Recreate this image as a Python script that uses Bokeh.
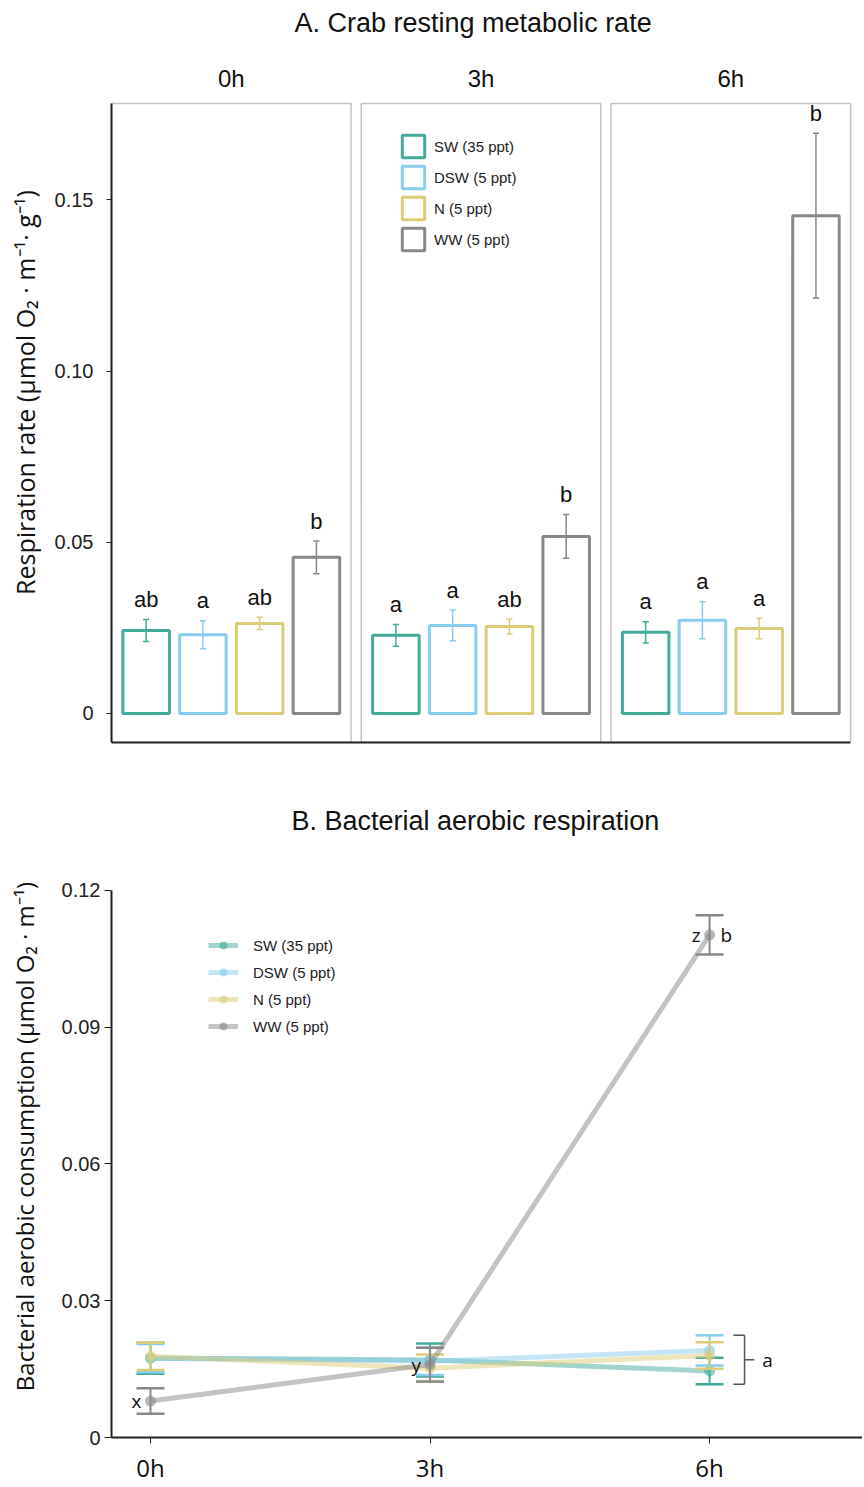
from bokeh.plotting import figure
from bokeh.layouts import column
from bokeh.models import (ColumnDataSource, Legend, LegendItem, FixedTicker, Range1d)
from bokeh.embed import file_html
from bokeh.resources import INLINE
from bokeh.core.properties import value

# ---------------- data ----------------
groups = ["SW (35 ppt)", "DSW (5 ppt)", "N (5 ppt)", "WW (5 ppt)"]
times = ["0h", "3h", "6h"]
colors = ["#44AA99", "#88CCEE", "#DDCC77", "#888888"]

# Panel A: crab resting metabolic rate (mean, se) per group across 0h/3h/6h
crab_sw = [0.0242, 0.0228, 0.0237]
crab_dsw = [0.0230, 0.0257, 0.0272]
crab_n = [0.0263, 0.0254, 0.0248]
crab_ww = [0.0456, 0.0517, 0.1454]
crab_sw_se = [0.0032, 0.0032, 0.0031]
crab_dsw_se = [0.0041, 0.0045, 0.0054]
crab_n_se = [0.0018, 0.0022, 0.0030]
crab_ww_se = [0.0048, 0.0064, 0.0241]
crab_sw_let = ["ab", "a", "a"]
crab_dsw_let = ["a", "a", "a"]
crab_n_let = ["ab", "ab", "a"]
crab_ww_let = ["b", "b", "b"]

# Panel B: bacterial aerobic respiration (mean, se)
bact_sw = [0.0174, 0.0170, 0.0146]
bact_dsw = [0.0174, 0.0167, 0.0191]
bact_n = [0.0178, 0.0152, 0.0180]
bact_ww = [0.0080, 0.0160, 0.1102]
bact_sw_se = [0.0034, 0.0036, 0.0029]
bact_dsw_se = [0.0031, 0.0030, 0.0033]
bact_n_se = [0.0030, 0.0030, 0.0029]
bact_ww_se = [0.0028, 0.0037, 0.0043]
bact_ww_let = ["x", "y", "z"]
bact_ww_6h_extra = "b"
bact_group_let = "a"

title_a = "A. Crab resting metabolic rate"
title_b = "B. Bacterial aerobic respiration"

crab_means = [crab_sw, crab_dsw, crab_n, crab_ww]
crab_ses = [crab_sw_se, crab_dsw_se, crab_n_se, crab_ww_se]
crab_lets = [crab_sw_let, crab_dsw_let, crab_n_let, crab_ww_let]
bact_means = [bact_sw, bact_dsw, bact_n, bact_ww]
bact_ses = [bact_sw_se, bact_dsw_se, bact_n_se, bact_ww_se]

TICK_FONT = "Liberation Sans"
LABEL_FONT = "Open Sans"
AXIS_COL = "#222222"
TXT = "#111111"


def style_title(p, text, standoff, offset):
    p.title.text = text
    p.title.align = "left"
    p.title.text_font = TICK_FONT
    p.title.text_font_size = "27px"
    p.title.text_font_style = "normal"
    p.title.text_color = TXT
    p.title.standoff = standoff
    p.title.offset = offset


# ---------------- Panel A ----------------
PAD = 0.61          # padding inside each facet box (category units)
GAP = 0.18          # gap between facet boxes
FACET = 3 + 2 * PAD + GAP
ymin_a, ymax_a = -0.0085, 0.1782   # extent of the facet boxes
ytop_a = 0.196                     # frame extends up to hold facet headers

pa = figure(width=862, height=775, output_backend="svg", toolbar_location=None,
            x_range=Range1d(-PAD, 12.62),
            y_range=Range1d(ymin_a, ytop_a),
            min_border_left=111, min_border_right=0, min_border_top=42,
            min_border_bottom=33)
pa.outline_line_color = None
pa.grid.visible = False
style_title(pa, title_a, 9, 183)

# facet boxes
bx_left = [i * FACET - PAD for i in range(len(times))]
bx_right = [i * FACET + 3 + PAD for i in range(len(times))]
pa.quad(left=bx_left, right=bx_right, bottom=[ymin_a] * 3, top=[ymax_a] * 3,
        fill_color=None, line_color="#c4c4c4", line_width=1.5)

bar_renderers = []
for g in range(len(groups)):
    xs = [t * FACET + g for t in range(len(times))]
    m = crab_means[g]
    s = crab_ses[g]
    src = ColumnDataSource(dict(x=xs, top=m))
    r = pa.vbar(x="x", top="top", bottom=0, width=0.82, source=src,
                fill_color="white", line_color=colors[g], line_width=3)
    bar_renderers.append(r)
    lo = [a - b for a, b in zip(m, s)]
    hi = [a + b for a, b in zip(m, s)]
    pa.segment(x0=xs, x1=xs, y0=lo, y1=hi, line_color=colors[g], line_width=1.5)
    cw = 0.055
    pa.segment(x0=[x - cw for x in xs], x1=[x + cw for x in xs], y0=hi, y1=hi,
               line_color=colors[g], line_width=1.5)
    pa.segment(x0=[x - cw for x in xs], x1=[x + cw for x in xs], y0=lo, y1=lo,
               line_color=colors[g], line_width=1.5)
    pa.text(x=xs, y=[h + 0.0058 for h in hi], text=crab_lets[g],
            text_align="center", text_baseline="middle",
            text_font=value(TICK_FONT), text_font_size="22px", text_color=TXT)

# facet headers
pa.text(x=[(l + r) / 2 for l, r in zip(bx_left, bx_right)], y=[0.1855] * 3,
        text=times, text_align="center", text_baseline="middle",
        text_font=value(TICK_FONT), text_font_size="24px", text_color=TXT)

pa.yaxis.bounds = (ymin_a, ymax_a)
pa.yaxis.ticker = FixedTicker(ticks=[0, 0.05, 0.10, 0.15])
pa.yaxis.major_label_overrides = {0: "0", 0.05: "0.05", 0.1: "0.10", 0.15: "0.15"}
pa.yaxis.axis_label = "Respiration rate (μmol O₂ · m⁻¹· g⁻¹)"
pa.yaxis.axis_label_text_font = LABEL_FONT
pa.yaxis.axis_label_text_font_size = "25px"
pa.yaxis.axis_label_text_font_style = "normal"
pa.yaxis.axis_label_text_color = TXT
pa.yaxis.axis_label_standoff = 10
pa.yaxis.major_label_text_font = TICK_FONT
pa.yaxis.major_label_text_font_size = "20px"
pa.yaxis.major_label_text_color = "#222222"
pa.yaxis.major_label_standoff = 13
pa.yaxis.major_tick_out = 5
pa.yaxis.major_tick_in = 0
pa.yaxis.minor_tick_line_color = None
pa.yaxis.axis_line_width = 2
pa.yaxis.axis_line_color = AXIS_COL
pa.yaxis.major_tick_line_color = AXIS_COL

pa.xaxis.bounds = (bx_left[0], bx_right[-1])
pa.xaxis.ticker = FixedTicker(ticks=[])
pa.xaxis.major_tick_line_color = None
pa.xaxis.minor_tick_line_color = None
pa.xaxis.major_label_text_font_size = "0px"
pa.xaxis.axis_line_width = 2
pa.xaxis.axis_line_color = AXIS_COL

leg_a = Legend(items=[LegendItem(label=groups[g], renderers=[bar_renderers[g]])
                      for g in range(len(groups))],
               location=(288, 489), padding=0, margin=0, spacing=3,
               glyph_width=28, glyph_height=28, label_standoff=7,
               label_text_font=TICK_FONT, label_text_font_size="15px",
               label_text_color="#222222",
               border_line_color=None, background_fill_alpha=0)
pa.add_layout(leg_a)

# ---------------- Panel B ----------------
pb = figure(width=862, height=711, output_backend="svg", toolbar_location=None,
            x_range=Range1d(-0.1395, 2.547), y_range=Range1d(0, 0.132),
            min_border_left=111, min_border_right=0, min_border_top=60,
            min_border_bottom=44)
pb.outline_line_color = None
pb.grid.visible = False
style_title(pb, title_b, 0, 180)

tx = list(range(len(times)))
legend_items_b = []
for g in range(len(groups)):
    m = bact_means[g]
    s = bact_ses[g]
    ln = pb.line(tx, m, line_color=colors[g], line_width=5, line_alpha=0.5)
    lo = [a - b for a, b in zip(m, s)]
    hi = [a + b for a, b in zip(m, s)]
    pb.segment(x0=tx, x1=tx, y0=lo, y1=hi, line_color=colors[g], line_width=2)
    cw = 0.05
    pb.segment(x0=[x - cw for x in tx], x1=[x + cw for x in tx], y0=hi, y1=hi,
               line_color=colors[g], line_width=2.5)
    pb.segment(x0=[x - cw for x in tx], x1=[x + cw for x in tx], y0=lo, y1=lo,
               line_color=colors[g], line_width=2.5)
    sc = pb.scatter(tx, m, marker="circle", size=11, fill_color=colors[g],
                    line_color=None, fill_alpha=0.6)
    legend_items_b.append(LegendItem(label=groups[g], renderers=[ln, sc]))

# letters for WW
pb.text(x=tx, y=bact_ww, text=bact_ww_let, x_offset=-9, text_align="right",
        text_baseline="middle", text_font=value(LABEL_FONT), text_font_size="19px",
        text_color=TXT)
pb.text(x=[tx[-1]], y=[bact_ww[-1]], text=[bact_ww_6h_extra], x_offset=11,
        text_align="left", text_baseline="middle", text_font=value(LABEL_FONT),
        text_font_size="19px", text_color=TXT)

# bracket for the three non-WW groups at 6h
b_top = max(bact_means[g][-1] + bact_ses[g][-1] for g in range(3))
b_bot = min(bact_means[g][-1] - bact_ses[g][-1] for g in range(3))
b_mid = (b_top + b_bot) / 2
xb = tx[-1] + 0.125
pb.segment(x0=[xb - 0.04, xb, xb - 0.04, xb], x1=[xb, xb, xb, xb + 0.035],
           y0=[b_top, b_top, b_bot, b_mid], y1=[b_top, b_bot, b_bot, b_mid],
           line_color="#555555", line_width=1.5)
pb.text(x=[xb + 0.082], y=[b_mid], text=[bact_group_let], text_align="center",
        text_baseline="middle", text_font=value(LABEL_FONT), text_font_size="19px",
        text_color=TXT)

pb.yaxis.bounds = (0, 0.12)
pb.yaxis.ticker = FixedTicker(ticks=[0, 0.03, 0.06, 0.09, 0.12])
pb.yaxis.major_label_overrides = {0: "0", 0.03: "0.03", 0.06: "0.06",
                                  0.09: "0.09", 0.12: "0.12"}
pb.yaxis.axis_label = "Bacterial aerobic consumption (μmol O₂ · m⁻¹)"
pb.yaxis.axis_label_text_font = LABEL_FONT
pb.yaxis.axis_label_text_font_size = "24px"
pb.yaxis.axis_label_text_font_style = "normal"
pb.yaxis.axis_label_text_color = TXT
pb.yaxis.axis_label_standoff = 18
pb.yaxis.major_label_text_font = TICK_FONT
pb.yaxis.major_label_text_font_size = "20px"
pb.yaxis.major_label_text_color = "#222222"
pb.yaxis.major_label_standoff = 4
pb.yaxis.major_tick_out = 7
pb.yaxis.major_tick_in = 0
pb.yaxis.minor_tick_line_color = None
pb.yaxis.axis_line_width = 2
pb.yaxis.axis_line_color = AXIS_COL
pb.yaxis.major_tick_line_color = AXIS_COL

pb.xaxis.ticker = FixedTicker(ticks=tx)
pb.xaxis.major_label_overrides = {i: t for i, t in enumerate(times)}
pb.xaxis.major_label_text_font = LABEL_FONT
pb.xaxis.major_label_text_font_size = "24px"
pb.xaxis.major_label_text_color = TXT
pb.xaxis.major_label_standoff = 7
pb.xaxis.major_tick_out = 6
pb.xaxis.major_tick_in = 0
pb.xaxis.minor_tick_line_color = None
pb.xaxis.axis_line_width = 2
pb.xaxis.axis_line_color = AXIS_COL
pb.xaxis.major_tick_line_color = AXIS_COL

leg_b = Legend(items=legend_items_b, location=(97, 401), padding=0, margin=0,
               spacing=7, glyph_width=30, glyph_height=20, label_standoff=15,
               label_text_font=TICK_FONT, label_text_font_size="15px",
               label_text_color="#222222",
               border_line_color=None, background_fill_alpha=0)
pb.add_layout(leg_b)

layout = column(pa, pb, spacing=0)
open("out.html", "w").write(file_html(layout, INLINE))
